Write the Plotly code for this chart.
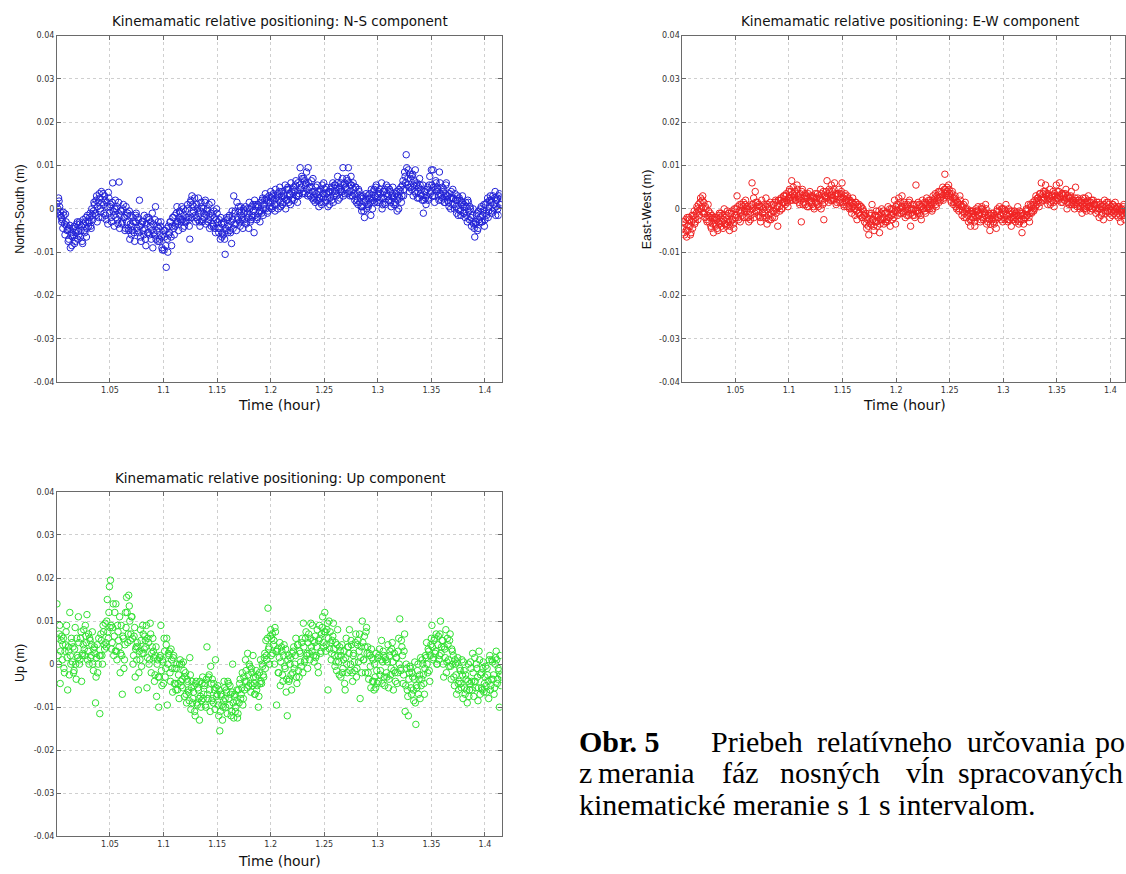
import numpy as np
import plotly.graph_objects as go

# ---------------- data (values in units of 0.1 mm) ----------------
# main samples at t_start + i*t_step, extra samples half a step later
t_start = 1.0005
t_step = 0.001

north_south = [
    12, 0, 18, -6, -20, -25, -8, -35, -12, -40,
    -48, -70, -38, -62, -85, -60, -40, -75, -50, -30,
    -52, -30, -65, -40, -80, -35, -55, -20, -45, -28,
    -30, -10, -45, -15, -5, 10, -15, 30, 5, -20,
    25, -5, 15, 35, -10, 20, -25, 5, 38, -10,
    10, -30, 60, -15, 0, -20, 5, -35, 62, -15,
    -5, -30, 10, -20, -45, -30, -10, -50, -70, -15,
    -40, -20, -55, -30, -10, -50, -25, 20, -65, -35,
    -30, -60, -45, -85, -20, -55, -25, -40, -70, -10,
    -35, -60, 5, -50, -75, -45, -70, -30, -90, -60,
    -95, -50, -135, -70, -40, -55, -30, -85, -20, -45,
    -15, -35, 5, -30, -20, -10, -30, -25, 0, -40,
    -5, -20, 10, -25, -70, 20, 30, -10, 5, -15,
    -20, 0, 25, -30, -5, 5, -25, -10, 15, -35,
    -5, -30, 10, -20, -40, -15, -40, -20, -55, 0,
    -30, -55, -45, -20, -65, -60, -35, -105, -50, -25,
    -40, -15, -55, -80, -25, 30, -10, -35, 15, -25,
    -5, -40, -15, -25, 0, -25, 5, -30, -10, -45,
    0, -25, -15, 10, -55, -15, 10, -20, 5, -5,
    15, -10, 25, 0, 20, 0, 20, -5, 30, 15,
    25, 5, 35, 10, 45, 10, 35, 20, 50, 5,
    40, 15, 30, 55, 20, 20, 45, 30, 10, 40,
    25, 50, 40, 65, 30, 60, 35, 95, 50, 70,
    40, 65, 55, 85, 30, 60, 35, 50, 25, 70,
    40, 15, 35, 55, 20, 25, 45, 10, 35, 60,
    45, 20, 35, 5, 40, 25, 50, 40, 15, 55,
    55, 30, 75, 45, 25, 60, 40, 95, 55, 35,
    45, 65, 95, 40, 55, 55, 30, 45, 20, 50,
    35, 10, 40, 25, 5, 5, 25, -20, 20, 0,
    30, 10, 35, -15, 25, 20, 45, 30, 55, 15,
    40, 20, 35, 60, 10, 25, 45, 15, 35, 50,
    20, 40, 5, 35, 25, 30, 10, 40, 20, 0,
    25, 50, 30, 65, 45, 75, 125, 55, 90, 40,
    70, 45, 80, 55, 40, 35, 60, 40, 25, 55,
    45, 20, -10, 40, 25, 30, 50, 25, 75, 40,
    55, 90, 30, 45, 60, 50, 30, 85, 35, 20,
    25, 45, 15, 55, 30, 30, 5, 25, 40, 10,
    25, 0, 20, -10, 30, 0, 20, -15, 15, 5,
    10, -20, 5, -30, 15, -25, 0, -40, -15, -35,
    -65, -30, -10, -45, -25, -20, 5, -30, -5, -40,
    10, -15, 25, -5, 20, 15, -10, 30, 0, 40,
    5, 25, -15, 35, 10, 15,
]
north_south_mid = [
    -10, 25, 5, -15, -30, -45, -15, -60, -30, -50,
    -75, -45, -90, -55, -65, -45, -80, -55, -35, -70,
    -60, -35, -50, -75, -25, -50, -30, -65, -15, -40,
    -20, -40, 0, -25, 15, -10, 20, -30, 15, 35,
    0, 40, -20, 10, 30, -15, 15, -35, 25, 5,
    -20, 15, -5, -40, 20, 0, -25, 15, -45, -5,
    -35, 0, -20, -50, 5, -15, -45, -5, -35, -60,
    -50, -30, -75, -15, -45, -20, -55, -40, -75, -30,
    -50, -15, -70, -35, -55, -20, -60, -30, -50, -90,
    -55, -25, -70, -40, -30, -75, -40, -65, -95, -50,
    -65, -85, -45, -100, -60, -30, -65, -40, -20, -60,
    -40, -10, -30, -50, -5, -25, 5, -45, -15, -30,
    -30, 0, -20, -40, 15, -20, 10, -5, 25, -30,
    10, -25, -10, -40, 15, -30, 0, -20, 20, -15,
    0, -25, -45, -10, 15, -35, -5, -45, -25, -10,
    -45, -25, -70, -35, -55, -30, -70, -45, -20, -55,
    -20, -50, -30, -5, -45, -35, -5, -50, -20, 5,
    -30, 5, -20, -45, -10, -5, -35, 0, -20, 15,
    -30, 5, -20, -5, 20, 5, -25, 10, -10, -30,
    -5, 20, -15, 10, 35, 25, -10, 15, 5, 40,
    0, 30, 20, -5, 25, 30, 0, 40, 15, 30,
    10, 35, 25, 0, 45, 50, 15, 35, 60, 20,
    45, 20, 55, 30, 15, 30, 55, 45, 75, 35,
    70, 35, 60, 45, 95, 50, 30, 65, 40, 20,
    25, 50, 20, 40, 5, 40, 15, 55, 25, 35,
    15, 50, 25, 40, 10, 45, 20, 60, 30, 40,
    35, 60, 20, 50, 40, 45, 70, 30, 60, 50,
    70, 35, 60, 30, 75, 30, 60, 35, 50, 15,
    20, 45, 15, 30, -5, 30, -5, 15, 35, 10,
    5, 25, 15, 45, 0, 40, 15, 50, 25, 35,
    15, 45, 25, 0, 40, 40, 10, 55, 30, 20,
    45, 15, 30, 50, 10, 15, 35, -5, 30, 45,
    40, 15, 55, 30, 85, 60, 95, 70, 50, 80,
    50, 75, 30, 65, 90, 55, 25, 50, 70, 35,
    30, 55, 20, 40, 10, 45, 20, 55, 35, 90,
    30, 50, 15, 65, 40, 45, 20, 60, 30, 50,
    40, 15, 35, 60, 20, 15, 35, 0, 25, 45,
    10, 35, 5, 20, -15, 25, -5, 10, 30, -10,
    -10, 15, -15, 20, -5, 5, -20, -30, 0, -45,
    -35, -15, -50, -5, -30, 0, -30, -15, 10, -25,
    -10, 15, -20, 5, 30, 20, -5, 10, 25, -15,
    20, 0, 30, 10, 25,
]

east_west = [
    -45, -30, -60, -25, -65, -50, -20, -40, -55, -15,
    -25, -5, -30, -10, 0, 10, -15, 25, 5, 30,
    15, -20, 0, -30, 10, -30, -10, -45, -20, -55,
    -20, -40, -25, -50, -15, -35, -10, -30, -45, 0,
    -20, -40, -5, -30, -50, -30, -5, -25, -45, -15,
    0, 30, -20, -5, -30, 10, -15, 15, -5, 20,
    -20, 0, -30, 5, -15, 60, 10, -20, 40, -5,
    15, -15, 5, -30, 20, -20, 10, -10, 25, -35,
    5, -25, 15, -10, -20, 10, -20, 20, 0, -40,
    20, -5, 25, 0, 15, 30, 10, 35, 15, 25,
    45, 20, 65, 35, 25, 40, 20, 55, 30, 15,
    35, -30, 45, 15, 30, 10, 30, 25, 5, 40,
    30, 10, 25, 0, 35, 15, 35, 5, 25, 45,
    35, 10, -25, 30, 40, 65, 25, 45, 20, 55,
    40, 20, 60, 35, 15, 30, 45, 15, 35, 60,
    25, 5, 35, 15, 30, 20, 0, 15, -10, 25,
    10, -15, 15, -25, 5, 10, -15, 5, -20, -5,
    -30, -10, -45, -25, -60, -15, -35, 10, -25, -50,
    -30, -5, -40, -15, -55, -25, 0, -20, -35, -10,
    -10, -30, 5, -20, -40, 0, -25, -10, 20, -35,
    10, -15, 25, 0, -10, 30, -5, 15, -20, 5,
    10, -15, 20, -40, 0, -15, 10, -20, 55, -5,
    15, -10, 5, -25, 20, 0, 15, -10, 25, 10,
    20, 0, 15, -5, 30, 15, 35, 5, 25, 40,
    40, 20, 35, 50, 25, 80, 35, 50, 30, 45,
    30, 15, 40, 10, 25, 20, 0, 15, -5, 30,
    10, -15, 5, -20, 15, -20, 0, -30, -5, -40,
    -25, -5, -20, -40, 0, -20, 5, -15, -30, 0,
    0, -25, -10, 10, -35, -30, -10, -50, -15, -25,
    -10, -35, -20, -45, 0, -20, 5, -15, 0, -30,
    0, -25, 10, -15, -30, -25, -5, -40, -10, -20,
    -5, -30, -15, 5, -35, -30, -10, -55, -15, -25,
    -20, 0, -15, 10, -30, 10, -10, 15, -5, 20,
    30, 10, 25, 5, 35, 60, 20, 40, 25, 55,
    35, 10, 30, 45, 15, 20, 40, 5, 30, 55,
    40, 20, 60, 25, 35, 15, 35, 20, 45, 0,
    30, 10, 25, 40, 15, 20, 0, 50, 10, 25,
    20, 0, 15, -10, 25, 5, 25, -5, 15, 30,
    15, -5, 20, 0, 10, 10, -10, 15, 0, -20,
    10, -15, 5, -25, 20, -10, 15, -5, 10, -20,
    5, -15, 10, -5, 15, -15, 5, -20, 0, -30,
    0, -15, 10, -25, -5, -10,
]
east_west_mid = [
    -30, -55, -35, -50, -20, -40, -25, -60, -30, -45,
    -15, -35, -20, 5, -25, -5, 15, 0, 20, -10,
    -10, 5, -25, -15, -5, -20, -40, -15, -35, -25,
    -35, -20, -45, -30, -10, -20, -40, -15, -25, -35,
    -35, -15, -25, -10, -40, -10, -25, -35, 0, -20,
    -15, 5, -25, 10, -10, -5, 5, -20, 10, 0,
    5, -20, -5, -25, 10, 0, 25, -10, 15, 5,
    -5, 10, -20, 5, -10, 0, -15, 5, -20, 10,
    -15, 0, -25, 10, -5, -5, 15, -10, 5, 20,
    5, 20, 0, 15, 30, 15, 30, 20, 5, 40,
    25, 40, 20, 50, 30, 20, 35, 45, 25, 10,
    20, 40, 10, 25, 35, 25, 5, 35, 15, 20,
    15, 30, 5, 25, 15, 25, 10, 30, 20, 0,
    20, 40, 15, 30, 25, 35, 15, 40, 30, 20,
    25, 45, 30, 10, 35, 35, 20, 25, 40, 15,
    10, 30, 20, 5, 25, 5, 20, 0, 15, 5,
    0, 15, -5, 10, -10, -10, 5, -20, 0, -15,
    -15, -35, -20, -40, -10, -30, -10, -25, -40, -15,
    -15, -30, -20, -5, -35, -10, -25, -5, -20, -30,
    -25, -10, -20, 0, -15, -15, 0, -20, -5, 5,
    -5, 10, -10, 15, 5, 5, -10, 10, 0, -15,
    -5, 15, 0, -10, 10, 0, -15, -5, 10, -10,
    -5, 10, -15, 5, 0, 10, -5, 15, 5, 0,
    5, 20, 10, 0, 20, 25, 10, 30, 20, 15,
    25, 40, 30, 20, 45, 45, 30, 40, 55, 35,
    20, 35, 25, 15, 30, 5, 15, 10, 0, 20,
    5, -5, 10, -10, 0, -5, -15, -10, -25, -5,
    -20, -10, -30, -15, -5, -5, -15, -10, -25, 5,
    -20, -5, -15, 0, -20, -15, -25, -35, -10, -20,
    -30, -15, -25, -5, -20, -5, -15, -25, 0, -10,
    -20, -5, -15, -25, 0, -10, -20, -5, -25, -15,
    -20, -10, -25, -15, -5, -15, -25, -10, -35, -20,
    -5, -15, 0, -20, -10, 5, -5, 10, 0, 5,
    15, 25, 20, 35, 15, 25, 35, 20, 40, 30,
    20, 35, 25, 10, 30, 30, 15, 35, 20, 25,
    25, 40, 30, 15, 35, 30, 20, 35, 25, 15,
    25, 15, 30, 10, 20, 10, 25, 15, 5, 20,
    15, 5, 20, 10, 0, 15, 0, 10, 20, 5,
    5, 15, 0, 20, 10, 0, 10, -5, 15, 0,
    5, -10, 0, 10, -5, 5, -5, 15, -10, 0,
    -5, 10, -10, 5, 0, 0, -10, 5, -15, -5,
    -10, 5, -15, 0, -10,
]

up = [
    140, 20, 70, -45, 55, 10, 60, -20, 45, 90,
    -60, 30, 120, 0, 50, 40, -15, 85, -35, 20,
    110, 0, 60, -40, 25, 80, 20, 65, 115, 30,
    0, 55, 20, 75, -15, 40, -90, 15, -20, 60,
    -115, 70, 20, 90, 45, 95, 40, 150, 60, 180,
    195, 35, 85, 20, 120, 140, 10, 75, 40, -20,
    90, -70, 60, 10, 120, 155, 50, 160, 100, 70,
    110, 0, 65, -30, 40, 50, -60, 30, 80, -5,
    90, 25, 65, 40, -55, 60, 0, 95, -20, 40,
    30, -40, 20, -75, 10, -100, 15, 90, -50, 5,
    60, -30, 45, -95, 25, 30, -40, 10, -65, 20,
    -10, -60, 0, -45, -80, 10, -50, -35, 5, -75,
    -20, -90, -40, -65, 15, -105, -40, -80, -50, -120,
    -40, -95, -60, -130, -75, -85, -30, -70, -45, -100,
    40, -80, -25, -110, -45, -35, -90, -60, 10, -75,
    -50, -120, -155, -70, -95, -100, -40, -80, -60, -115,
    -45, -95, -70, -110, 0, -125, -70, -100, -60, -115,
    -90, -35, -70, -20, -80, -60, 10, -40, 25, -50,
    -5, -65, -20, 20, -45, -70, -15, -50, -100, -20,
    10, -45, -5, -30, 25, 55, 10, 130, 40, 65,
    20, 70, 45, 0, 75, -95, 35, -20, 50, 5,
    30, -40, 45, -10, -65, -120, 20, -35, 15, -60,
    -20, 40, 0, 60, -45, 45, -30, 25, -5, 60,
    95, 5, 60, 20, -10, 70, 10, 95, 30, 55,
    5, 65, 20, 80, -20, 90, 25, 70, 110, 40,
    120, 30, 80, -60, 100, 75, 10, 55, 95, 20,
    50, -15, 80, 5, 40, -30, 45, -10, 30, -60,
    60, -20, 40, 80, 0, 45, -40, 25, -15, 70,
    -10, 55, 30, -80, 40, 100, 10, 65, -20, 85,
    40, -35, 20, -55, 15, 10, -60, -30, 25, -45,
    -40, 35, -15, 55, 5, 20, -50, 10, -30, 45,
    -35, 30, -10, 50, -60, 25, -40, 15, -20, 60,
    105, -15, 40, -45, 30, -110, 0, -60, -120, -20,
    -10, -70, -30, -85, 5, -140, -55, 0, -35, -80,
    -50, 10, -25, -70, 20, 50, -20, 30, -40, 45,
    90, 10, 55, 25, 70, 0, 65, 20, 100, 40,
    55, -30, 35, 80, 5, 45, -5, 70, -35, 30,
    20, -50, 0, -70, 15, -60, -10, -45, 10, -80,
    -15, -70, -35, -90, 0, -60, 5, -40, 25, -75,
    15, -55, -10, -85, 30, -70, -20, -60, 5, -45,
    -5, -65, -25, -80, 20, -50, 10, -35, -70, 0,
    30, -45, -10, -100, -25, -30,
]
up_mid = [
    60, 0, 90, 30, 65, 45, -10, 30, 75, 15,
    40, -25, 20, 60, 5, -20, 35, 0, 60, 15,
    50, 10, 75, 20, 45, 35, 90, 50, 10, 70,
    60, 15, 45, 0, 35, 25, -30, 45, 0, 20,
    20, 55, 0, 75, 35, 50, 100, 75, 120, 85,
    90, 50, 140, 65, 30, 30, 90, 55, 110, 25,
    20, 65, -10, 45, 85, 120, 70, 135, 55, 110,
    60, 20, 85, 35, 10, 40, -20, 10, 55, 25,
    70, 35, 55, 90, 15, 50, 10, 70, 25, 60,
    15, -25, 40, 0, -30, -30, 20, -15, 10, -45,
    30, -10, 60, 0, 20, -20, 35, -10, 15, -45,
    -45, -10, -60, -25, 0, -40, 0, -55, -15, -30,
    -70, -35, -60, -85, -25, -55, -90, -65, -110, -45,
    -90, -55, -80, -40, -100, -45, -80, -50, -95, -35,
    -70, -30, -60, -5, -85, -80, -45, -105, -55, -70,
    -95, -60, -110, -75, -130, -85, -55, -100, -65, -40,
    -80, -50, -120, -65, -90, -75, -110, -85, -125, -60,
    -45, -80, -55, -95, -30, -40, -15, -55, -25, 0,
    -45, -10, -50, -30, -70, -30, -60, -25, -75, -45,
    -40, 0, -25, 15, -10, 20, 60, 35, 0, 80,
    60, 25, 55, 85, 30, 30, -20, 15, -50, 40,
    -25, 20, -5, 35, -35, 10, -40, 0, -25, 25,
    30, -10, 20, -30, 45, -15, 30, 5, 50, -20,
    40, 10, 75, 25, 50, 25, 60, 40, 90, 20,
    50, 15, 40, -5, 55, 60, 30, 85, 50, 75,
    75, 45, 95, 60, 35, 50, 25, 65, 35, -5,
    5, 45, 20, -25, 30, 20, -20, 10, -45, 15,
    0, 40, 25, -15, 55, -20, 20, 5, 50, -30,
    45, 5, 70, 15, -20, 50, 10, 40, 75, 25,
    -20, 25, -5, 35, -40, -40, 0, -55, -15, 15,
    20, -25, 10, -45, 30, -30, 15, -20, 5, -55,
    20, -25, 35, 5, -15, -20, 15, -45, 30, 0,
    -10, 55, 20, -25, 70, -50, -10, -75, -35, -5,
    -55, -20, -60, -35, -90, -50, -15, -70, -25, 15,
    -35, 0, -45, -10, 15, 0, 35, -15, 20, 60,
    40, 15, 60, 30, 0, 45, 10, 70, 25, 55,
    0, 40, 15, -20, 60, 10, 55, -5, 35, 0,
    -30, 10, -25, 5, -45, -40, -15, -55, -25, 5,
    -55, -25, -60, -40, -75, -45, -10, -60, -20, -40,
    -40, 0, -30, -55, 10, -25, -55, -10, -65, -30,
    -50, -10, -40, 10, -60, -35, 5, -25, -55, 15,
    10, -35, -15, 20, -50,
]

y_tick_vals = [-0.04, -0.03, -0.02, -0.01, 0, 0.01, 0.02, 0.03, 0.04]
y_tick_text = ["-0.04", "-0.03", "-0.02", "-0.01", "0", "0.01", "0.02", "0.03", "0.04"]
x_tick_vals = [1.05, 1.1, 1.15, 1.2, 1.25, 1.3, 1.35, 1.4]
x_tick_text = ["1.05", "1.1", "1.15", "1.2", "1.25", "1.3", "1.35", "1.4"]

titles = [
    "Kinemamatic relative positioning: N-S component",
    "Kinemamatic relative positioning: E-W component",
    "Kinemamatic relative positioning: Up component",
]
y_labels = ["North-South (m)", "East-West (m)", "Up (m)"]
x_label = "Time (hour)"


def to_series(vals, mids):
    v1 = np.array(vals, dtype=float) / 10000.0  # 0.1 mm -> m
    v2 = np.array(mids, dtype=float) / 10000.0
    t1 = t_start + t_step * np.arange(len(v1))
    t2 = t_start + t_step / 2 + t_step * np.arange(len(v2))
    t = np.concatenate([t1, t2])
    v = np.concatenate([v1, v2])
    order = np.argsort(t, kind="stable")
    return t[order], v[order]


W, H = 1126, 874


def px(x):
    return x / W


def py(y):
    return 1 - y / H


fig = go.Figure()
colors = ["rgb(35,35,215)", "rgb(240,35,35)", "rgb(50,225,50)"]
series = [(north_south, north_south_mid), (east_west, east_west_mid), (up, up_mid)]
axes = [("x", "y"), ("x2", "y2"), ("x3", "y3")]
for (vals, mids), col, (xa, ya) in zip(series, colors, axes):
    t, v = to_series(vals, mids)
    fig.add_trace(go.Scatter(
        x=t, y=v, mode="markers", xaxis=xa, yaxis=ya,
        marker=dict(symbol="circle-open", size=6.5, color=col, line=dict(width=1, color=col)),
        showlegend=False, hoverinfo="skip",
    ))

tick_font = dict(family="DejaVu Sans, Arial", size=8, color="#333333")
common = dict(
    showgrid=True, gridcolor="#cfcfcf", griddash="dot", gridwidth=1,
    showline=True, linecolor="#6a6a6a", linewidth=1, mirror="allticks",
    ticks="inside", ticklen=4, tickcolor="#6a6a6a", tickwidth=1,
    tickfont=tick_font, zeroline=False,
)

# domains (pixel based)
p1 = dict(l=57, r=502, t=32, b=382)
p2 = dict(l=683, r=1126, t=32, b=382)
p3 = dict(l=57, r=502, t=493, b=841)
x_range_full = [1.0005, 1.4155]
x_range_p2 = [1.0005, 1.0005 + (p2["r"] - p2["l"]) * (0.415 / (p1["r"] - p1["l"]))]

fig.update_layout(
    width=W, height=H,
    margin=dict(l=0, r=0, t=0, b=0),
    paper_bgcolor="white", plot_bgcolor="white",
    xaxis=dict(common, domain=[px(p1["l"]), px(p1["r"])], range=x_range_full,
               tickvals=x_tick_vals, ticktext=x_tick_text, anchor="y"),
    yaxis=dict(common, domain=[py(p1["b"]), py(p1["t"])], range=[-0.04, 0.04],
               tickvals=y_tick_vals, ticktext=y_tick_text, anchor="x"),
    xaxis2=dict(common, domain=[px(p2["l"]), 1.0], range=x_range_p2,
                tickvals=x_tick_vals, ticktext=x_tick_text, anchor="y2"),
    yaxis2=dict(common, domain=[py(p2["b"]), py(p2["t"])], range=[-0.04, 0.04],
                tickvals=y_tick_vals, ticktext=y_tick_text, anchor="x2"),
    xaxis3=dict(common, domain=[px(p3["l"]), px(p3["r"])], range=x_range_full,
                tickvals=x_tick_vals, ticktext=x_tick_text, anchor="y3"),
    yaxis3=dict(common, domain=[py(p3["b"]), py(p3["t"])], range=[-0.04, 0.04],
                tickvals=y_tick_vals, ticktext=y_tick_text, anchor="x3"),
)

ann = []
title_font = dict(family="DejaVu Sans, Arial", size=13.5, color="#111111")
label_font = dict(family="DejaVu Sans, Arial", size=14, color="#111111")
ylabel_font = dict(family="Liberation Sans, Arial", size=12.5, color="#111111")


def add_text(text, x, y, font, angle=0, xanchor="center", yanchor="middle"):
    ann.append(dict(text=text, x=px(x), y=py(y), xref="paper", yref="paper",
                    showarrow=False, font=font, textangle=angle,
                    xanchor=xanchor, yanchor=yanchor))


add_text(titles[0], 280, 17, title_font)
add_text(titles[1], 911, 17, title_font)
add_text(titles[2], 281, 479, title_font)
add_text(y_labels[0], 20, 207, ylabel_font, angle=-90)
add_text(y_labels[1], 647, 207, ylabel_font, angle=-90)
add_text(y_labels[2], 20, 666, ylabel_font, angle=-90)
add_text(x_label, 280, 405, label_font)
add_text(x_label, 905, 405, label_font)
add_text(x_label, 280, 866, label_font)

cap_font = dict(family="Liberation Serif, Times New Roman", size=30, color="#000000")
add_text("<b>Obr. 5</b>", 578, 745, cap_font, xanchor="left")
line1_words = ["Priebeh", "relatívneho", "určovania", "po"]
line1_x = [710, 816, 966, 1094]
for w_, x_ in zip(line1_words, line1_x):
    add_text(w_, x_, 745, cap_font, xanchor="left")
line2_words = ["z", "merania", "fáz", "nosných", "vĺn", "spracovaných"]
line2_x = [578, 597, 721, 779, 905, 957]
for w_, x_ in zip(line2_words, line2_x):
    add_text(w_, x_, 777, cap_font, xanchor="left")
add_text("kinematické meranie s 1 s intervalom.", 578, 809, cap_font, xanchor="left")

fig.update_layout(annotations=ann)
fig.write_html("out.html")
